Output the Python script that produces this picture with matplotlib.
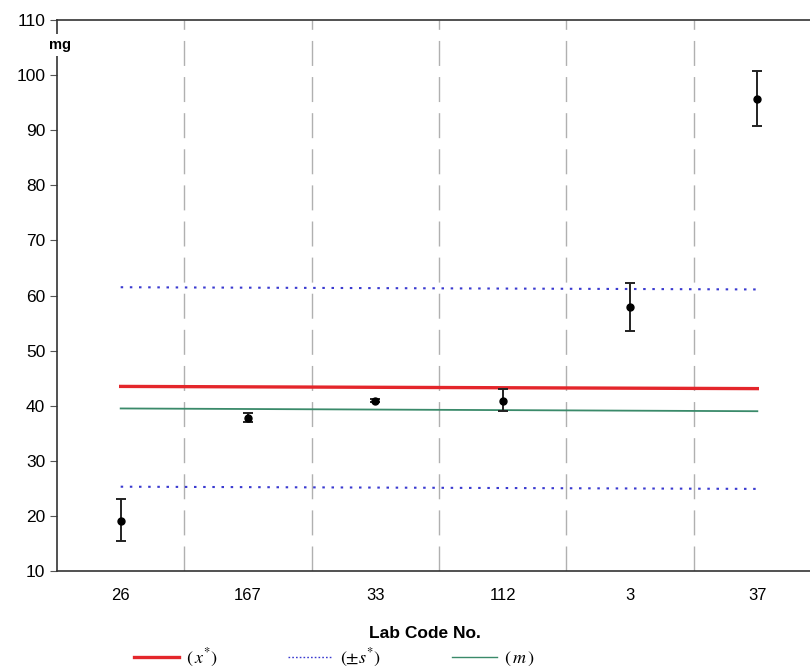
import matplotlib.pyplot as plt
from matplotlib.lines import Line2D

plt.rcParams["font.family"] = ["Liberation Sans", "DejaVu Sans"]
plt.rcParams["mathtext.fontset"] = "stix"

labs = ["26", "167", "33", "112", "3", "37"]
values = [19.0, 37.8, 40.9, 40.8, 58.0, 95.7]
err_low = [15.4, 37.0, 40.6, 39.0, 53.6, 90.7]
err_high = [23.0, 38.7, 41.2, 43.0, 62.3, 100.7]

# reference lines: value at first and last lab
x_star = [43.5, 43.1]
s_upper = [61.5, 61.1]
s_lower = [25.3, 24.9]
m_line = [39.5, 39.0]

fig = plt.figure(figsize=(8.1, 6.72), dpi=100)
ax = fig.add_axes([57 / 810, 101 / 672, 764 / 810, 551 / 672])

xs = list(range(len(labs)))
ends = [xs[0], xs[-1]]

for b in [i + 0.5 for i in xs[:-1]]:
    ax.axvline(b, color="#b0b0b0", lw=1.0, dashes=(18, 8), zorder=1)

ax.plot(ends, x_star, color="#e4262b", lw=2.4, zorder=3)
ax.plot(ends, s_upper, color="#3a3ad0", lw=1.5, dashes=(1.2, 3.2), zorder=3)
ax.plot(ends, s_lower, color="#3a3ad0", lw=1.5, dashes=(1.2, 3.2), zorder=3)
ax.plot(ends, m_line, color="#3a8a6a", lw=1.3, zorder=3)

yerr = [[v - lo for v, lo in zip(values, err_low)],
        [hi - v for v, hi in zip(values, err_high)]]
ax.errorbar(xs, values, yerr=yerr, fmt="o", color="black", ms=5,
            elinewidth=1.4, capsize=3.5, capthick=1.4, ecolor="#222222", zorder=4)

ax.set_xlim(-0.5, 5.5)
ax.set_ylim(10, 110)
ax.set_yticks(range(10, 111, 10))
ax.set_xticks(xs)
ax.set_xticklabels(labs)
ax.tick_params(axis="x", length=0, pad=12, labelsize=12)
ax.tick_params(axis="y", direction="out", length=5, labelsize=12.5, color="#555555")
for side in ["top", "bottom", "left", "right"]:
    ax.spines[side].set_linewidth(1.2)
    ax.spines[side].set_color("#333333")

ax.text(0.004, 0.955, "mg", transform=ax.transAxes, fontsize=10.5, fontweight="bold",
        ha="center", va="center", zorder=5,
        bbox=dict(facecolor="white", edgecolor="none", pad=3))

ax.set_xlabel("Lab Code No.", fontsize=12.5, fontweight="bold")
ax.xaxis.set_label_coords(0.482, -0.1)

handles = [
    Line2D([], [], color="#e4262b", lw=2.4),
    Line2D([], [], color="#3a3ad0", lw=1.0, dashes=(1.2, 1.5)),
    Line2D([], [], color="#3a8a6a", lw=1.0),
]
fig.legend(handles, [r"$(\,x^{*})$", r"$(\pm s^{*})$", r"$(\,m\,)$"],
           loc="center", bbox_to_anchor=(334 / 810, 1 - 658 / 672), ncol=3,
           frameon=False, fontsize=13, handlelength=2.5, columnspacing=3.9,
           handletextpad=0.4)

fig.savefig("out.png", dpi=100)
